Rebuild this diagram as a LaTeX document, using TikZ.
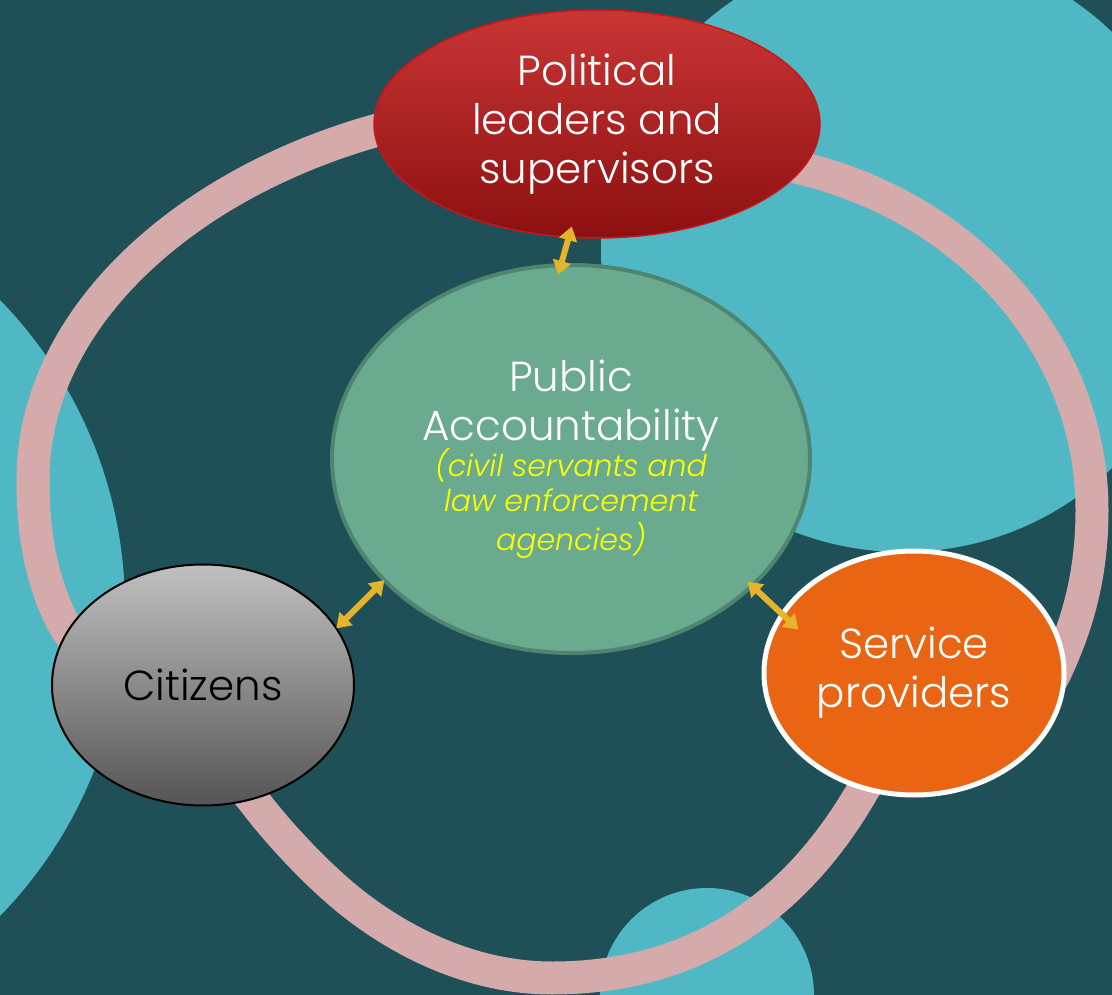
\documentclass[tikz,border=0pt]{standalone}
\usepackage{fontspec}
\setmainfont{Poppins}[UprightFont={* Light}, ItalicFont={* Light Italic}]
\usetikzlibrary{shapes.geometric,arrows.meta}
\definecolor{bgc}{HTML}{1F5057}
\definecolor{lblue}{HTML}{50B8C4}
\definecolor{ringc}{HTML}{D4AAAA}
\definecolor{redtop}{HTML}{CA3535}
\definecolor{redbot}{HTML}{8C1010}
\definecolor{redline}{HTML}{C8161B}
\definecolor{pubfill}{HTML}{6AAB8F}
\definecolor{publine}{HTML}{4E8570}
\definecolor{cittop}{HTML}{C0C0C0}
\definecolor{citbot}{HTML}{555555}
\definecolor{servfill}{HTML}{EA6513}
\definecolor{gold}{HTML}{E6B42A}
\definecolor{yel}{HTML}{FFFF00}
\tikzset{
  blob/.style={ellipse, inner sep=0pt, outer sep=0pt, align=center},
  arr/.style={draw=gold, line width=6pt, {Triangle[width=18pt,length=14pt]}-{Triangle[width=18pt,length=14pt]}},
  bigtext/.style={font=\fontsize{42}{49}\selectfont}
}
\begin{document}
\begin{tikzpicture}[x=1pt,y=-1pt]
\useasboundingbox (0,0) rectangle (1112,995);
\fill[bgc] (0,0) rectangle (1112,995);
\begin{scope}
\clip (0,0) rectangle (1112,995);
\fill[lblue] (903,250) circle[radius=302];
\fill[lblue] (-317,608) circle[radius=442];
\fill[lblue] (707,995) circle[radius=107];
\draw[ringc, line width=33pt]
  (33,480) .. controls (33,270) and (290,105) .. (560,105)
  .. controls (660,105) and (740,154) .. (800,168)
  .. controls (972,209) and (1092,349) .. (1092,510)
  .. controls (1092,580) and (1075,630) .. (1055,673)
  .. controls (1035,716) and (940,710) .. (900,752)
  .. controls (888,765) and (873,773) .. (863,790)
  .. controls (813,877) and (722,978) .. (552,978)
  .. controls (470,978) and (400,940) .. (355,905)
  .. controls (320,878) and (280,835) .. (257,805)
  .. controls (200,730) and (90,680) .. (60,617)
  .. controls (40,575) and (33,530) .. (33,480) -- cycle;
\end{scope}
\node[blob, minimum width=446pt, minimum height=228pt, top color=redtop, bottom color=redbot, draw=redline, line width=1.5pt, text=white, bigtext] (pol) at (597,124) {Political\\leaders and\\supervisors};
\node[blob, minimum width=478pt, minimum height=388pt, fill=pubfill, draw=publine, line width=4pt, text=white, bigtext] (pub) at (571,459)
 {Public\\Accountability\\[-13pt]
  {\fontsize{30}{36}\selectfont\itshape\color{yel}(civil servants and}\\[-14pt]
  {\fontsize{30}{36}\selectfont\itshape\color{yel}law enforcement}\\[-10pt]
  {\fontsize{30}{36}\selectfont\itshape\color{yel}agencies)}};
\node[blob, minimum width=302pt, minimum height=241pt, top color=cittop, bottom color=citbot, draw=black, line width=2pt, text=black, bigtext] (cit) at (203,685) {Citizens};
\node[blob, minimum width=300pt, minimum height=244pt, fill=servfill, draw=white, line width=5pt, text=white, bigtext] (serv) at (914,673) {Service\\providers};
\draw[arr, shorten <=-10pt, shorten >=-11pt] (pub.93) -- (pol.256);
\draw[arr] (pub.213) -- (cit.23);
\draw[arr, shorten <=-6pt, shorten >=-22pt] (pub.325) -- (serv.156);
\end{tikzpicture}
\end{document}
